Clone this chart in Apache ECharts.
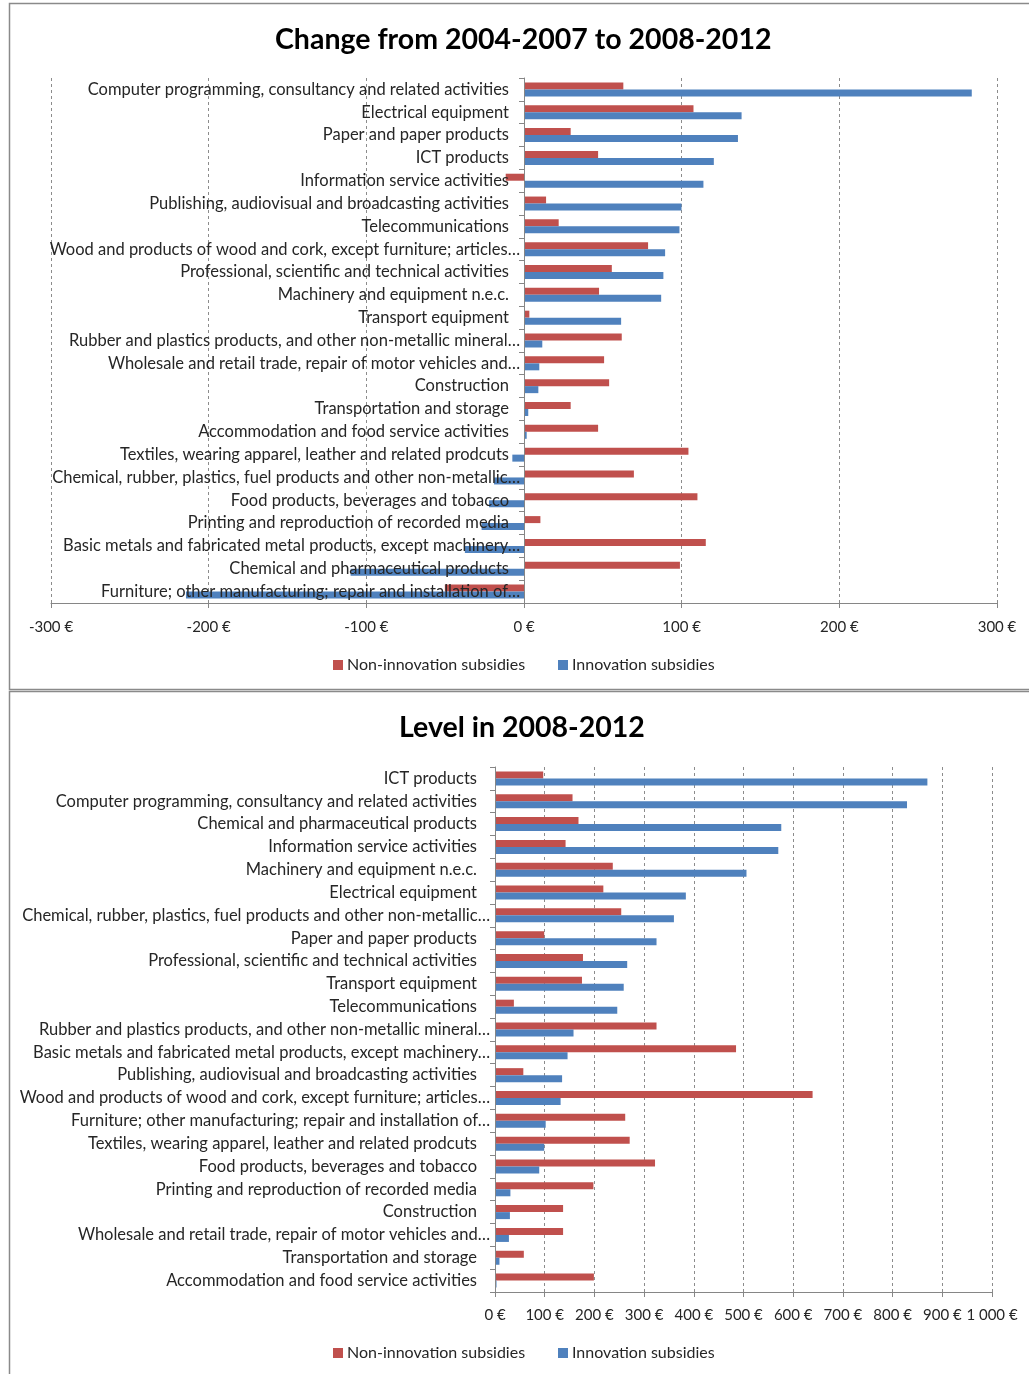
<!DOCTYPE html>
<html>
<head>
<meta charset="utf-8">
<script src="https://cdn.jsdelivr.net/npm/echarts@6/dist/echarts.min.js"></script>
<style>
html,body{margin:0;padding:0;background:#fff;}
#chart{width:1029px;height:1374px;}
</style>
</head>
<body>
<div id="chart"></div>
<script>
// ---------- DATA ----------
var seriesNames = ['Non-innovation subsidies', 'Innovation subsidies'];

var topCategories = [
  "Computer programming, consultancy and related activities",
  "Electrical equipment",
  "Paper and paper products",
  "ICT products",
  "Information service activities",
  "Publishing, audiovisual and broadcasting activities",
  "Telecommunications",
  "Wood and products of wood and cork, except furniture; articles…",
  "Professional, scientific and technical activities",
  "Machinery and equipment n.e.c.",
  "Transport equipment",
  "Rubber and plastics products, and other non-metallic mineral…",
  "Wholesale and retail trade, repair of motor vehicles and…",
  "Construction",
  "Transportation and storage",
  "Accommodation and food service activities",
  "Textiles, wearing apparel, leather and related prodcuts",
  "Chemical, rubber, plastics, fuel products and other non-metallic…",
  "Food products, beverages and tobacco",
  "Printing and reproduction of recorded media",
  "Basic metals and fabricated metal products, except machinery…",
  "Chemical and pharmaceutical products",
  "Furniture; other manufacturing; repair and installation of…"
];
var topNonInnovation = [63, 107.5, 29.6, 47, -11.6, 14, 22, 78.7, 55.7, 47.6, 3.4, 62, 50.8, 54, 29.6, 47, 104.3, 69.7, 110, 10.4, 115.3, 98.9, -50.2];
var topInnovation = [284, 138, 135.7, 120.4, 113.8, 99.9, 98.6, 89.5, 88.4, 87, 61.6, 11.6, 9.7, 9.1, 2.7, 1.7, -7.4, -19, -22.2, -26.9, -37.5, -110, -214.4];
var topTickLabels = ['-300 €', '-200 €', '-100 €', '0 €', '100 €', '200 €', '300 €'];

var bottomCategories = [
  "ICT products",
  "Computer programming, consultancy and related activities",
  "Chemical and pharmaceutical products",
  "Information service activities",
  "Machinery and equipment n.e.c.",
  "Electrical equipment",
  "Chemical, rubber, plastics, fuel products and other non-metallic…",
  "Paper and paper products",
  "Professional, scientific and technical activities",
  "Transport equipment",
  "Telecommunications",
  "Rubber and plastics products, and other non-metallic mineral…",
  "Basic metals and fabricated metal products, except machinery…",
  "Publishing, audiovisual and broadcasting activities",
  "Wood and products of wood and cork, except furniture; articles…",
  "Furniture; other manufacturing; repair and installation of…",
  "Textiles, wearing apparel, leather and related prodcuts",
  "Food products, beverages and tobacco",
  "Printing and reproduction of recorded media",
  "Construction",
  "Wholesale and retail trade, repair of motor vehicles and…",
  "Transportation and storage",
  "Accommodation and food service activities"
];
var bottomNonInnovation = [97, 156, 168, 142, 237, 218, 254, 99, 177, 175, 38, 325, 485, 57, 639, 262, 271, 322, 198, 137, 137, 58, 199];
var bottomInnovation = [870, 829, 576, 570, 506, 384, 360, 325, 266, 259, 246, 158, 146, 135, 132, 102, 99, 89, 31, 30, 28, 9, 3];
var bottomTickLabels = ['0 €', '100 €', '200 €', '300 €', '400 €', '500 €', '600 €', '700 €', '800 €', '900 €', '1 000 €'];

// ---------- STYLE ----------
var FONT = 'Lato';
var RED = '#C0504D';
var BLUE = '#4F81BD';
var TEXT = '#262626';
var CAT_FS = 16.5;

function catLabel(padRight) {
  return {
    show: true, fontFamily: FONT, fontSize: CAT_FS, color: TEXT, margin: 5,
    formatter: function (v) {
      return /…$/.test(v) ? '{t|' + v + '}' : '{n|' + v + '}';
    },
    rich: {
      t: { fontFamily: FONT, fontSize: CAT_FS, color: TEXT },
      n: { fontFamily: FONT, fontSize: CAT_FS, color: TEXT, padding: [0, padRight, 0, 0] }
    }
  };
}

function valueAxis(gridIndex, min, max, labels, margin) {
  return {
    type: 'value', gridIndex: gridIndex, min: min, max: max, interval: 100,
    axisLine: { show: true, lineStyle: { color: '#868686', width: 1 } },
    axisTick: { show: true, length: 5, lineStyle: { color: '#868686' } },
    splitLine: { show: true, lineStyle: { color: '#8c8c8c', type: [3, 3], width: 1 } },
    axisLabel: {
      fontFamily: FONT, fontSize: 15, color: TEXT, margin: margin,
      formatter: function (v) { return labels[Math.round((v - min) / 100)]; }
    }
  };
}

function catAxis(gridIndex, cats, padRight, showLabels) {
  return {
    type: 'category', gridIndex: gridIndex, data: cats, inverse: true, z: 10,
    axisLine: { show: true, onZero: true, lineStyle: { color: '#868686' } },
    axisTick: { show: true, length: 5, lineStyle: { color: '#868686' } },
    splitLine: { show: false },
    axisLabel: showLabels ? catLabel(padRight) : { show: false }
  };
}

function bar(name, idx, data, color) {
  return {
    name: name, type: 'bar', xAxisIndex: idx, yAxisIndex: idx, data: data,
    barWidth: 7, barGap: '0%',
    itemStyle: { color: color },
    emphasis: { disabled: true }
  };
}

function legend(name, left, top) {
  return {
    data: [name], left: left, top: top, orient: 'horizontal',
    icon: 'rect', itemWidth: 10, itemHeight: 10, itemGap: 4,
    textStyle: { fontFamily: FONT, fontSize: 16, color: TEXT, padding: [0, 0, 0, -1] },
    selectedMode: false
  };
}

var option = {
  backgroundColor: '#ffffff',
  animation: false,
  color: [RED, BLUE],
  title: [
    { text: 'Change from 2004-2007 to 2008-2012', left: 270, top: 20,
      textStyle: { fontFamily: FONT, fontSize: 28.5, fontWeight: 'bold', color: '#000' } },
    { text: 'Level in 2008-2012', left: 394, top: 708,
      textStyle: { fontFamily: FONT, fontSize: 28.5, fontWeight: 'bold', color: '#000' } }
  ],
  legend: [
    legend(seriesNames[0], 328, 652),
    legend(seriesNames[1], 553, 652),
    legend(seriesNames[0], 328, 1340),
    legend(seriesNames[1], 553, 1340)
  ],
  grid: [
    { left: 51, right: 32, top: 78, bottom: 771, containLabel: false, outerBoundsMode: 'none' },
    { left: 495, right: 37, top: 767, bottom: 82, containLabel: false, outerBoundsMode: 'none' },
    // label-only grid whose left edge sits on the zero line of the top chart
    { left: 525, right: 32, top: 78, bottom: 771, containLabel: false, outerBoundsMode: 'none' }
  ],
  xAxis: [
    valueAxis(0, -300, 300, topTickLabels, 17),
    valueAxis(1, 0, 1000, bottomTickLabels, 16),
    { type: 'value', gridIndex: 2, min: 0, max: 1, show: false }
  ],
  yAxis: [
    catAxis(0, topCategories, 11, false),
    catAxis(1, bottomCategories, 13, true),
    {
      type: 'category', gridIndex: 2, data: topCategories, inverse: true, z: 10,
      axisLine: { show: false }, axisTick: { show: false }, splitLine: { show: false },
      axisLabel: catLabel(11)
    }
  ],
  series: [
    bar(seriesNames[0], 0, topNonInnovation, RED),
    bar(seriesNames[1], 0, topInnovation, BLUE),
    bar(seriesNames[0], 1, bottomNonInnovation, RED),
    bar(seriesNames[1], 1, bottomInnovation, BLUE)
  ],
  graphic: [
    { type: 'rect', shape: { x: 9.5, y: 3.5, width: 1040, height: 686 },
      style: { fill: 'none', stroke: '#8a8a8a', lineWidth: 1.5 }, silent: true, z: -1 },
    { type: 'rect', shape: { x: 9.5, y: 691.5, width: 1040, height: 700 },
      style: { fill: 'none', stroke: '#8a8a8a', lineWidth: 1.5 }, silent: true, z: -1 }
  ]
};

var chart = echarts.init(document.getElementById('chart'), null, { renderer: 'canvas' });
chart.setOption(option);
</script>
</body>
</html>
